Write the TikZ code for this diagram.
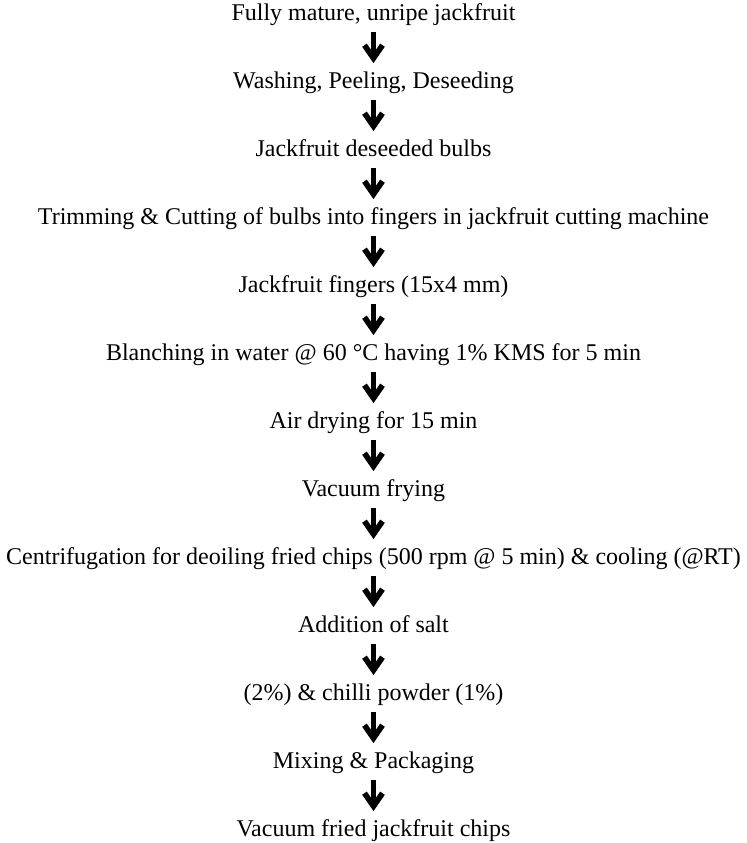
\documentclass[tikz,border=0pt]{standalone}
\usepackage{fontspec}
\setmainfont{Liberation Serif}
\usepackage{tikz}
\usetikzlibrary{arrows.meta, positioning}

\begin{document}
\begin{tikzpicture}[
        stage/.style={inner sep=0pt, text height=8pt, text depth=2.5pt, align=center, font=\fontsize{12pt}{14pt}\selectfont},
        flow/.style={line width=2.8pt, -{Straight Barb[length=6.5pt, width=9pt, line join=miter]}, shorten <=3pt, shorten >=4.5pt},
        node distance=23.1pt
    ]
        \useasboundingbox (-186.75pt,7.5pt) rectangle (186.75pt,-414pt);
        \node[stage] (mature) at (0,0) {Fully mature, unripe jackfruit};
        \node[stage, below=of mature] (washing) {Washing, Peeling, Deseeding};
        \node[stage, below=of washing] (bulbs) {Jackfruit deseeded bulbs};
        \node[stage, below=of bulbs] (trimming) {Trimming \& Cutting of bulbs into fingers in jackfruit cutting machine};
        \node[stage, below=of trimming] (fingers) {Jackfruit fingers (15x4 mm)};
        \node[stage, below=of fingers] (blanching) {Blanching in water @ 60 °C having 1\% KMS for 5 min};
        \node[stage, below=of blanching] (airdry) {Air drying for 15 min};
        \node[stage, below=of airdry] (vacfry) {Vacuum frying};
        \node[stage, below=of vacfry] (centrifuge) {Centrifugation for deoiling fried chips (500 rpm @ 5 min) \& cooling (@RT)};
        \node[stage, below=of centrifuge] (salt) {Addition of salt};
        \node[stage, below=of salt] (chilli) {(2\%) \& chilli powder (1\%)};
        \node[stage, below=of chilli] (mixing) {Mixing \& Packaging};
        \node[stage, below=of mixing] (chips) {Vacuum fried jackfruit chips};

        \foreach \a/\b in {mature/washing, washing/bulbs, bulbs/trimming, trimming/fingers, fingers/blanching, blanching/airdry, airdry/vacfry, vacfry/centrifuge, centrifuge/salt, salt/chilli, chilli/mixing, mixing/chips}
            \draw[flow] (\a) -- (\b);
\end{tikzpicture}
\end{document}
